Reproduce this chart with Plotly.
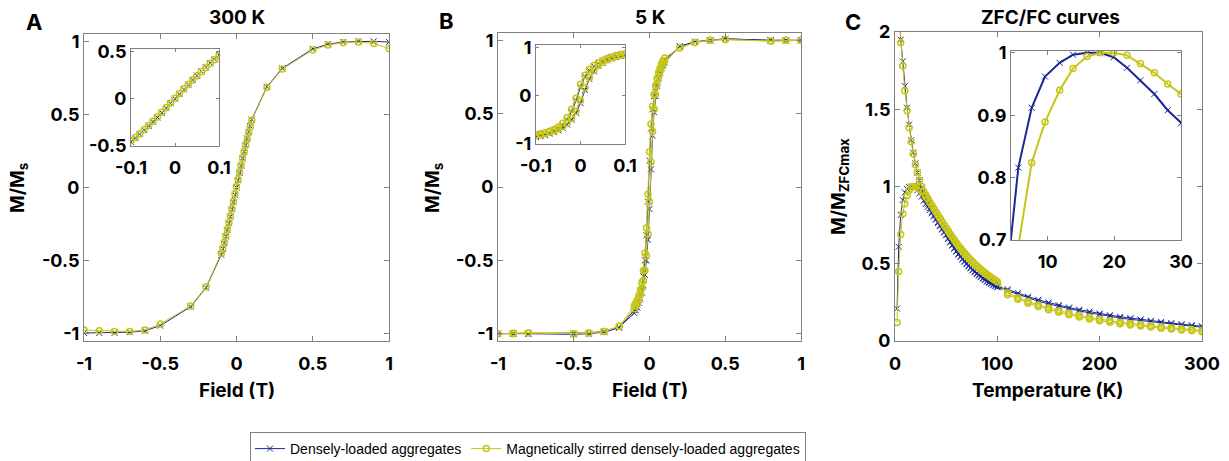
import plotly.graph_objects as go

W, H = 1229, 461
BLUE = "rgb(26,40,152)"
YEL = "rgb(198,198,24)"
GRID = "#808080"
FONT = "Inter"

# ---------------- Panel A: 300 K ----------------
A_field = [-1, -0.9, -0.8, -0.7, -0.6, -0.5, -0.3, -0.2,
           -0.1, -0.09, -0.08, -0.07, -0.06, -0.05, -0.04, -0.03, -0.02, -0.01, 0.0,
           0.01, 0.02, 0.03, 0.04, 0.05, 0.06, 0.07, 0.08, 0.09, 0.1,
           0.2, 0.3, 0.5, 0.6, 0.7, 0.8, 0.9, 1.0]
A_blue = [-0.995, -0.995, -0.995, -0.99, -0.98, -0.945, -0.815, -0.685,
          -0.46, -0.42, -0.38, -0.335, -0.29, -0.245, -0.20, -0.15, -0.10, -0.05, 0.0,
          0.05, 0.10, 0.15, 0.20, 0.245, 0.29, 0.335, 0.38, 0.42, 0.465,
          0.69, 0.815, 0.948, 0.98, 0.995, 1.0, 1.0, 0.995]
A_yellow = [-0.975, -0.98, -0.985, -0.985, -0.975, -0.934, -0.81, -0.68,
            -0.45, -0.415, -0.375, -0.33, -0.285, -0.24, -0.195, -0.145, -0.095, -0.045, 0.005,
            0.055, 0.105, 0.15, 0.20, 0.245, 0.29, 0.33, 0.375, 0.415, 0.46,
            0.685, 0.81, 0.94, 0.975, 0.99, 0.995, 0.985, 0.95]

# ---------------- Panel B: 5 K (hysteresis loop) ----------------
B_field = [1, 0.9, 0.8, 0.5, 0.4, 0.3, 0.2,
           0.1, 0.09, 0.08, 0.07, 0.06, 0.05, 0.04, 0.03, 0.02, 0.01, 0.0,
           -0.01, -0.02, -0.03, -0.04, -0.05, -0.06, -0.07, -0.08, -0.09, -0.1,
           -0.2, -0.3, -0.4, -0.5, -0.8, -0.9, -1,
           -0.9, -0.8, -0.5, -0.4, -0.3, -0.2,
           -0.1, -0.09, -0.08, -0.07, -0.06, -0.05, -0.04, -0.03, -0.02, -0.01, 0.0,
           0.01, 0.02, 0.03, 0.04, 0.05, 0.06, 0.07, 0.08, 0.09, 0.1,
           0.2, 0.3, 0.4, 0.5, 0.8, 0.9, 1]
B_blue = [1.0, 1.0, 1.0, 1.01, 1.0, 0.99, 0.955,
          0.87, 0.85, 0.83, 0.80, 0.77, 0.73, 0.68, 0.62, 0.53, 0.40, 0.18,
          -0.10, -0.33, -0.50, -0.61, -0.68, -0.73, -0.77, -0.80, -0.82, -0.84,
          -0.96, -0.99, -1.0, -1.005, -1.0, -1.0, -1.0,
          -1.0, -1.0, -1.0, -0.995, -0.985, -0.955,
          -0.86, -0.84, -0.82, -0.79, -0.76, -0.72, -0.67, -0.60, -0.50, -0.36, -0.15,
          0.12, 0.35, 0.51, 0.62, 0.69, 0.74, 0.78, 0.81, 0.83, 0.85,
          0.96, 0.99, 1.0, 1.01, 1.0, 1.0, 1.0]
B_yellow = [1.0, 1.0, 0.995, 1.005, 1.0, 0.985, 0.95,
            0.88, 0.86, 0.84, 0.81, 0.78, 0.74, 0.69, 0.63, 0.55, 0.43, 0.24,
            -0.05, -0.28, -0.45, -0.57, -0.65, -0.70, -0.74, -0.77, -0.79, -0.81,
            -0.95, -0.985, -0.995, -1.0, -0.995, -1.0, -1.0,
            -0.995, -0.995, -1.0, -0.995, -0.985, -0.95,
            -0.83, -0.81, -0.79, -0.76, -0.73, -0.69, -0.64, -0.57, -0.47, -0.32, -0.10,
            0.17, 0.38, 0.53, 0.63, 0.70, 0.75, 0.79, 0.82, 0.84, 0.86,
            0.95, 0.985, 1.0, 1.005, 0.995, 1.0, 1.0]

# ---------------- Panel C: ZFC/FC ----------------
C_temp_zfc = [2, 3.6, 5.6, 7.6, 9.6, 11.8, 13.8, 15.9, 17.9, 19.9, 21.9, 23.9, 26, 28,
              30, 32, 34, 36, 38, 40, 42, 44, 46, 48, 50, 52, 54, 56, 58, 60, 62, 64,
              66, 68, 70, 72, 74, 76, 78, 80, 82, 84, 86, 88, 90, 92, 94, 96, 98, 100,
              110, 120, 130, 140, 150, 160, 170, 180, 190, 200, 210, 220, 230, 240,
              250, 260, 270, 280, 290, 300]
C_temp_fc = [3.6, 5.6, 7.6, 9.6, 11.8, 13.8, 15.9, 17.9, 19.9, 21.9, 23.9, 26, 28,
             30, 32, 34, 36, 38, 40, 42, 44, 46, 48, 50, 52, 54, 56, 58, 60, 62, 64,
             66, 68, 70, 72, 74, 76, 78, 80, 82, 84, 86, 88, 90, 92, 94, 96, 98, 100,
             110, 120, 130, 140, 150, 160, 170, 180, 190, 200, 210, 220, 230, 240,
             250, 260, 270, 280, 290, 300]
C_blue_zfc = [0.21, 0.61, 0.816, 0.912, 0.962, 0.984, 0.997, 1.0, 1.0, 0.993, 0.976, 0.956, 0.934, 0.908,
              0.887, 0.868, 0.848, 0.827, 0.806, 0.785, 0.764, 0.743, 0.722, 0.702, 0.684, 0.660,
              0.638, 0.617, 0.597, 0.578, 0.560, 0.543, 0.527, 0.512, 0.497, 0.483, 0.470, 0.457,
              0.445, 0.434, 0.423, 0.413, 0.403, 0.394, 0.385, 0.377, 0.369, 0.361, 0.354, 0.347,
              0.325, 0.300, 0.278, 0.258, 0.240, 0.224, 0.209, 0.195, 0.182, 0.170, 0.159, 0.149,
              0.140, 0.132, 0.124, 0.116, 0.109, 0.102, 0.096, 0.089]
C_blue_fc = [2.2, 1.95, 1.81, 1.65, 1.51, 1.40, 1.30, 1.22, 1.15, 1.09, 1.04, 0.99, 0.95,
             0.915, 0.885, 0.86, 0.836, 0.813, 0.791, 0.769, 0.748, 0.727, 0.707, 0.689, 0.665,
             0.643, 0.622, 0.602, 0.583, 0.565, 0.548, 0.532, 0.517, 0.502, 0.488, 0.475, 0.462,
             0.450, 0.439, 0.428, 0.418, 0.408, 0.399, 0.390, 0.382, 0.374, 0.366, 0.359, 0.352,
             0.335, 0.310, 0.287, 0.267, 0.249, 0.232, 0.217, 0.203, 0.190, 0.178, 0.167, 0.157,
             0.148, 0.139, 0.131, 0.124, 0.116, 0.109, 0.102, 0.095]
C_yel_zfc = [0.12, 0.45, 0.69, 0.824, 0.889, 0.940, 0.975, 0.994, 1.0, 1.0, 0.996, 0.983, 0.968, 0.95,
             0.934, 0.915, 0.895, 0.874, 0.853, 0.832, 0.811, 0.790, 0.769, 0.748, 0.728, 0.708,
             0.688, 0.669, 0.650, 0.632, 0.614, 0.597, 0.581, 0.565, 0.550, 0.535, 0.521, 0.508,
             0.495, 0.483, 0.471, 0.459, 0.448, 0.437, 0.427, 0.417, 0.408, 0.399, 0.390, 0.381,
             0.300, 0.270, 0.245, 0.223, 0.203, 0.186, 0.170, 0.156, 0.143, 0.131, 0.121, 0.112,
             0.104, 0.097, 0.090, 0.083, 0.077, 0.071, 0.066, 0.060]
C_yel_fc = [2.15, 1.93, 1.78, 1.62, 1.49, 1.38, 1.29, 1.21, 1.14, 1.09, 1.04, 1.0, 0.97,
            0.945, 0.922, 0.9, 0.878, 0.856, 0.835, 0.814, 0.793, 0.772, 0.751, 0.731, 0.711,
            0.691, 0.672, 0.653, 0.635, 0.617, 0.600, 0.584, 0.568, 0.553, 0.538, 0.524, 0.511,
            0.498, 0.486, 0.474, 0.462, 0.451, 0.440, 0.430, 0.420, 0.411, 0.402, 0.393, 0.384,
            0.310, 0.280, 0.255, 0.233, 0.213, 0.196, 0.180, 0.166, 0.153, 0.141, 0.131, 0.122,
            0.114, 0.106, 0.099, 0.092, 0.086, 0.080, 0.074, 0.068]

# ---------------- Tick labels & text ----------------
field_ticks = [-1, -0.5, 0, 0.5, 1]
field_ticktext = ["-1", "-0.5", "0", "0.5", "1"]
insetA_xticks = [-0.1, 0, 0.1]
insetA_xtext = ["-0.1", "0", "0.1"]
insetA_yticks = [-0.5, 0, 0.5]
insetA_ytext = ["-0.5", "0", "0.5"]
insetB_yticks = [-1, 0, 1]
insetB_ytext = ["-1", "0", "1"]
C_xticks = [0, 100, 200, 300]
C_yticks = [0, 0.5, 1, 1.5, 2]
C_ytext = ["0", "0.5", "1", "1.5", "2"]
Ci_xticks = [10, 20, 30]
Ci_yticks = [0.7, 0.8, 0.9, 1]
Ci_ytext = ["0.7", "0.8", "0.9", "1"]
series_names = ["Densely-loaded aggregates", "Magnetically stirred densely-loaded aggregates"]


def px_dom_x(a, b):
    return [a / W, b / W]


def px_dom_y(top, bottom):
    return [1 - bottom / H, 1 - top / H]


fig = go.Figure()


def add_pair(xs_b, ys_b, xs_y, ys_y, xa, ya, lw, ms, show=False):
    fig.add_trace(go.Scatter(x=xs_b, y=ys_b, mode="lines+markers", xaxis=xa, yaxis=ya,
                             name=series_names[0], showlegend=show, legendgroup="b",
                             line=dict(color=BLUE, width=lw),
                             marker=dict(symbol="x-thin-open", size=ms, color=BLUE,
                                         line=dict(color=BLUE, width=1))))
    fig.add_trace(go.Scatter(x=xs_y, y=ys_y, mode="lines+markers", xaxis=xa, yaxis=ya,
                             name=series_names[1], showlegend=show, legendgroup="y",
                             line=dict(color=YEL, width=lw),
                             marker=dict(symbol="circle-open", size=ms, color=YEL,
                                         line=dict(color=YEL, width=1.5))))


# Panel A main + inset
add_pair(A_field, A_blue, A_field, A_yellow, "x", "y", 1, 6, show=True)
add_pair(A_field, A_blue, A_field, A_yellow, "x2", "y2", 1, 6)
# Panel B main + inset
add_pair(B_field, B_blue, B_field, B_yellow, "x3", "y3", 1, 6)
add_pair(B_field, B_blue, B_field, B_yellow, "x4", "y4", 1, 6)
# Panel C main (ZFC + FC) and inset (ZFC peak only)
add_pair(C_temp_zfc, C_blue_zfc, C_temp_zfc, C_yel_zfc, "x5", "y5", 1, 6)
add_pair(C_temp_fc, C_blue_fc, C_temp_fc, C_yel_fc, "x5", "y5", 1, 6)
add_pair(C_temp_zfc, C_blue_zfc, C_temp_zfc, C_yel_zfc, "x6", "y6", 2, 6)

tickfont = dict(family=FONT, size=18, color="black", weight="bold")


def ax(domain, rng, tv, tt, anchor, ticklen=5, standoff=None):
    d = dict(domain=domain, range=rng, tickvals=tv, ticktext=tt, anchor=anchor,
             showline=True, linecolor=GRID, linewidth=1, mirror="ticks",
             ticks="inside", ticklen=ticklen, tickcolor=GRID, tickwidth=1,
             showgrid=False, zeroline=False, tickfont=tickfont, fixedrange=True,
             automargin=False)
    if standoff is not None:
        d["ticklabelstandoff"] = standoff
    return d


fig.update_layout(
    template="none",
    xaxis=ax(px_dom_x(84, 389), [-1, 1], field_ticks, field_ticktext, "y", 5, 6),
    yaxis=ax(px_dom_y(34, 341), [-1.05, 1.05], field_ticks, field_ticktext, "x"),
    xaxis2=ax(px_dom_x(131, 219), [-0.1, 0.1], insetA_xticks, insetA_xtext, "y2", 3, 5),
    yaxis2=ax(px_dom_y(49, 146), [-0.505, 0.53], insetA_yticks, insetA_ytext, "x2", 3),
    xaxis3=ax(px_dom_x(498, 801), [-1, 1], field_ticks, field_ticktext, "y3", 5, 6),
    yaxis3=ax(px_dom_y(33, 341), [-1.05, 1.05], field_ticks, field_ticktext, "x3"),
    xaxis4=ax(px_dom_x(536, 625), [-0.1, 0.1], insetA_xticks, insetA_xtext, "y4", 3, 5),
    yaxis4=ax(px_dom_y(45, 144), [-1.005, 1.06], insetB_yticks, insetB_ytext, "x4", 3),
    xaxis5=ax(px_dom_x(895, 1202), [0, 300], C_xticks, [str(v) for v in C_xticks], "y5", 5, 6),
    yaxis5=ax(px_dom_y(32, 341), [0, 2], C_yticks, C_ytext, "x5"),
    xaxis6=ax(px_dom_x(1011, 1181), [4.5, 30], Ci_xticks, [str(v) for v in Ci_xticks], "y6", 4, 5),
    yaxis6=ax(px_dom_y(51, 240), [0.7, 1.003], Ci_yticks, Ci_ytext, "x6", 4),
)

annots = []


def text(x, y, s, size, angle=0, weight="bold"):
    annots.append(dict(x=x / W, y=1 - y / H, xref="paper", yref="paper", text=s,
                       showarrow=False, textangle=angle, xanchor="center", yanchor="middle",
                       font=dict(family=FONT, size=size, color="black", weight=weight)))


text(34, 22, "A", 22)
text(446, 21, "B", 22)
text(853, 22, "C", 22)
text(237, 18, "300 K", 19)
text(650, 18, "5 K", 19)
text(1050, 17, "ZFC/FC curves", 19)
text(237, 390, "Field (T)", 19)
text(650, 390, "Field (T)", 19)
text(1048, 390, "Temperature (K)", 19)
text(18, 188, "M/M<sub>s</sub>", 19, -90)
text(433, 188, "M/M<sub>s</sub>", 19, -90)
text(839, 187, "M/M<sub>ZFCmax</sub>", 19, -90)

fig.update_layout(
    annotations=annots,
    width=W, height=H,
    margin=dict(l=0, r=0, t=0, b=0, autoexpand=False),
    paper_bgcolor="white", plot_bgcolor="white",
    showlegend=True,
    legend=dict(orientation="h", x=250 / W, y=1 - 432 / H, xanchor="left", yanchor="top",
                bordercolor=GRID, borderwidth=1, bgcolor="white",
                font=dict(family="Liberation Sans", size=14, color="black"),
                itemwidth=30, tracegroupgap=0),
)

fig.write_html("out.html")
